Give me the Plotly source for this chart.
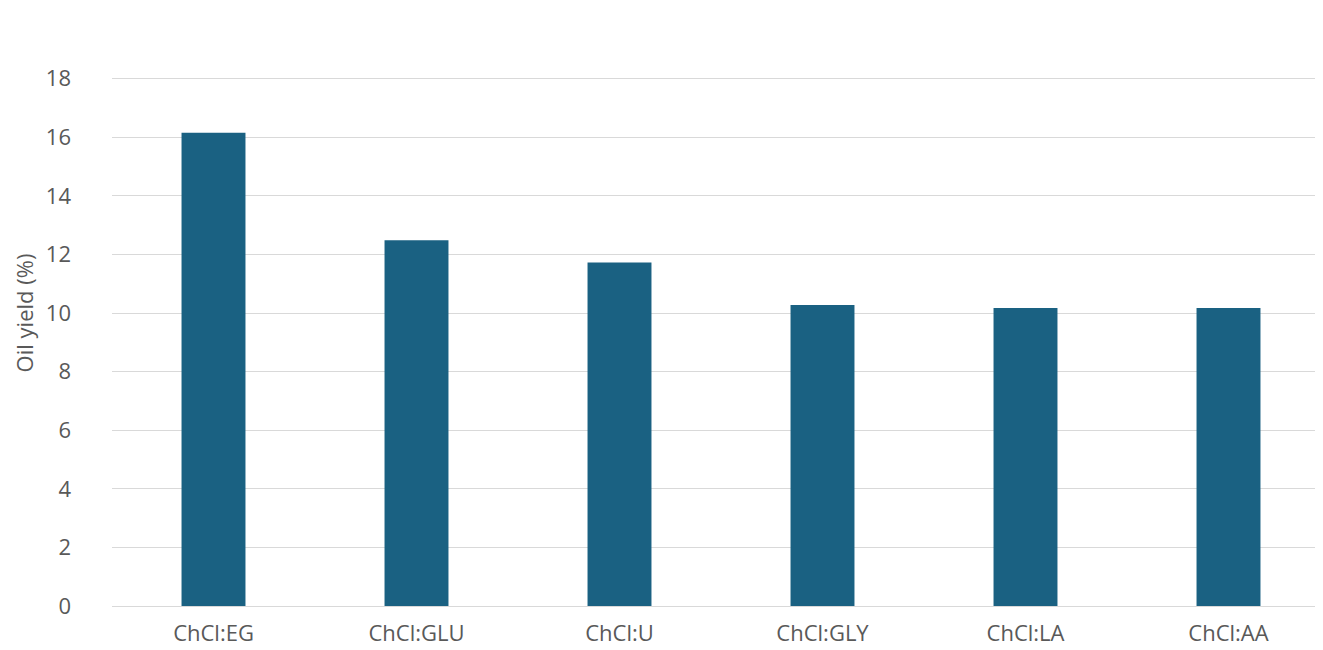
import plotly.graph_objects as go

categories = ["ChCl:EG", "ChCl:GLU", "ChCl:U", "ChCl:GLY", "ChCl:LA", "ChCl:AA"]
oil_yield = [16.15, 12.48, 11.72, 10.27, 10.17, 10.17]
y_ticks = [0, 2, 4, 6, 8, 10, 12, 14, 16, 18, 20]

fig = go.Figure(go.Bar(x=categories, y=oil_yield, marker_color="#1a6182", marker_line_width=0))
fig.update_layout(
    width=1323, height=650, plot_bgcolor="white", paper_bgcolor="white",
    margin=dict(l=104, r=1, t=12, b=52), bargap=0.685, showlegend=False,
    font=dict(family="Open Sans, Lato, sans-serif", size=22, color="#595959"),
)
fig.update_yaxes(range=[0, 20], tickvals=y_ticks, gridcolor="#d9d9d9", gridwidth=1,
                 zeroline=False, showline=False, ticks="", ticklabelstandoff=40,
                 title=dict(text="Oil yield (%)", font=dict(size=22), standoff=6))
fig.update_xaxes(showline=True, linecolor="#d9d9d9", linewidth=1, ticks="", ticklabelstandoff=8)
fig.write_html("out.html")
